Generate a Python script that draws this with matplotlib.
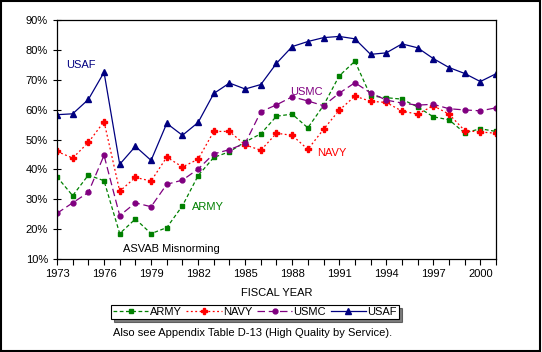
import matplotlib
matplotlib.use("Agg")
import matplotlib.pyplot as plt
from matplotlib.ticker import FixedLocator, FuncFormatter
from matplotlib.patches import Rectangle

years = list(range(1973, 2002))

army = [37.5, 31.2, 38.1, 36.2, 18.5, 23.4, 18.5, 20.5, 27.8, 37.9,
        44.0, 45.9, 49.2, 51.9, 57.8, 58.5, 53.9, 61.4, 71.3, 76.2,
        64.6, 64.0, 63.5, 60.9, 57.6, 56.6, 52.2, 53.6, 52.7]
navy = [46.0, 43.8, 49.0, 56.0, 32.7, 37.3, 36.1, 44.1, 40.8, 43.4,
        52.7, 52.7, 48.2, 46.4, 52.1, 51.4, 46.7, 53.4, 59.8, 64.5,
        62.8, 62.4, 59.5, 58.5, 61.3, 58.5, 53.0, 52.5, 52.1]
usmc = [25.3, 28.8, 32.3, 44.7, 24.5, 28.8, 27.5, 35.0, 36.4, 40.1,
        45.2, 46.6, 48.7, 59.3, 61.6, 64.3, 62.9, 61.3, 65.5, 69.0,
        65.6, 63.2, 62.2, 61.5, 61.8, 60.3, 59.9, 59.6, 60.6]
usaf = [58.3, 58.6, 63.4, 72.5, 41.7, 47.7, 43.0, 55.4, 51.4, 55.7,
        65.4, 68.9, 66.9, 68.4, 75.5, 81.1, 82.8, 84.1, 84.5, 83.7,
        78.5, 79.0, 82.0, 80.7, 77.1, 74.1, 72.1, 69.4, 72.0]

year_labels = list(range(1973, 2001, 3))
y_ticks = list(range(10, 91, 10))

plt.rcParams["font.family"] = ["Liberation Sans", "DejaVu Sans"]
plt.rcParams["font.size"] = 8

fig = plt.figure(figsize=(5.42, 3.52), dpi=100)
ax = fig.add_axes([57 / 542, 1 - 259 / 352, (496 - 57) / 542, (259 - 20) / 352])

ax.plot(years, army, color="#008000", ls=(0, (3, 2)), lw=0.9,
        marker="s", ms=3.5, label="ARMY")
ax.plot(years, navy, color="#ff0000", ls=(0, (1.5, 2)), lw=0.9,
        marker="P", ms=4.5, label="NAVY")
ax.plot(years, usmc, color="#800080", ls=(0, (6, 3)), lw=0.9,
        marker="o", ms=3.5, label="USMC")
ax.plot(years, usaf, color="#000080", ls="-", lw=0.9,
        marker="^", ms=4.5, label="USAF")

ax.set_xlim(1973, 2001)
ax.set_ylim(10, 90)
ax.xaxis.set_major_locator(FixedLocator(years))
ax.set_xticklabels([str(y) if y in year_labels else "" for y in years])
ax.yaxis.set_major_locator(FixedLocator(y_ticks))
ax.yaxis.set_major_formatter(FuncFormatter(lambda v, p: f"{int(v)}%"))
ax.tick_params(axis="y", direction="inout", length=6, width=0.8)
ax.tick_params(axis="x", direction="out", length=4, width=0.8)
for s in ax.spines.values():
    s.set_linewidth(0.9)
ax.set_xlabel("FISCAL YEAR", labelpad=6)

ax.text(1973.6, 73.8, "USAF", color="#000080")
ax.text(1987.9, 64.8, "USMC", color="#800080")
ax.text(1989.6, 44.5, "NAVY", color="#ff0000")
ax.text(1981.6, 26.5, "ARMY", color="#008000")
ax.text(1977.2, 12.2, "ASVAB Misnorming", color="black")

leg = fig.legend(loc="upper center", bbox_to_anchor=(255 / 542, 1 - 305 / 352), ncol=4,
                 frameon=True, fancybox=False,
                 shadow=dict(ox=2, oy=-2, shade=1.0),
                 handlelength=3.2, handletextpad=0.1, columnspacing=0.4,
                 borderpad=0.2, borderaxespad=0)
leg.get_frame().set_edgecolor("black")
leg.get_frame().set_linewidth(0.8)

fig.text(253 / 542, 1 - 333 / 352, "Also see Appendix Table D-13 (High Quality by Service).",
         ha="center", va="center")

fig.patches.append(Rectangle((0.002, 0.003), 0.994, 0.994, transform=fig.transFigure,
                             fill=False, edgecolor="black", lw=1.5))

fig.savefig("out.png", dpi=100)
